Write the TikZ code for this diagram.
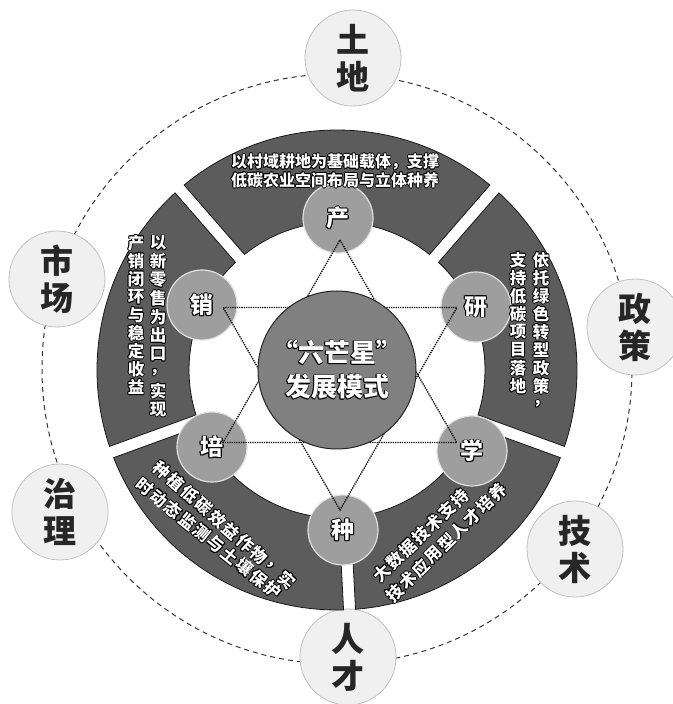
\documentclass[tikz,border=0pt]{standalone}
\usepackage{fontspec}
\setmainfont{Noto Sans CJK SC}
\usetikzlibrary{calc}

\newcommand\olpart[3]{\rlap{\hspace*{#1}\raisebox{#2}{\color{black}#3}}}
\newcommand\ol[1]{\leavevmode\olpart{.8pt}{0pt}{#1}\olpart{-.8pt}{0pt}{#1}\olpart{0pt}{.8pt}{#1}\olpart{0pt}{-.8pt}{#1}\olpart{.6pt}{.6pt}{#1}\olpart{-.6pt}{.6pt}{#1}\olpart{.6pt}{-.6pt}{#1}\olpart{-.6pt}{-.6pt}{#1}#1}

\tikzset{
	orbit/.style={draw=black!80, line width=1pt, dash pattern=on 5pt off 4pt},
	moon/.style={circle, minimum size=96pt, inner sep=0pt, fill=black!6, draw=black!25, line width=.8pt, text=black!85, align=center, font=\bfseries\fontsize{33}{37}\selectfont},
	band/.style={fill=black!64, draw=black!90, line width=.8pt},
	ball/.style={circle, minimum size=70pt, inner sep=0pt, fill=black!38, draw=black!12, line width=1.2pt, text=white, font=\bfseries\fontsize{23}{23}\selectfont},
	hub/.style={circle, minimum size=158pt, inner sep=0pt, fill=black!50, draw=black!85, line width=1pt, text=white, align=center, font=\bfseries\fontsize{26}{34}\selectfont},
	ringtext/.style={inner sep=0pt, text=white, font=\bfseries\fontsize{16.5}{18.5}\selectfont},
	hexa/.style={densely dotted, line width=1.3pt}
}

\begin{document}
\begin{tikzpicture}[x=1pt, y=1pt]
	\useasboundingbox (0,0) rectangle (672,704);
	\coordinate (C) at (337,334);
	\coordinate (S) at (340,329);

	\draw[orbit] (337,335) circle[radius=295];
	\node[moon] (tudi) at (353,646) {土\\地};
	\node[moon] (zhengce) at (635,377) {政\\策};
	\node[moon] (jishu) at (575,155) {技\\术};
	\node[moon] (rencai) at (348,47) {人\\才};
	\node[moon] (zhili) at (60,192) {治\\理};
	\node[moon] (shichang) at (57,425) {市\\场};

	\foreach \p/\q in {49/131,131/200,200/273,273/340,340/409}
		\filldraw[band] ($(C)+({\p+asin(6/148)}:148)$) arc[start angle={\p+asin(6/148)}, end angle={\q-asin(6/148)}, radius=148]
			-- ($(C)+({\q-asin(6/240)}:240)$) arc[start angle={\q-asin(6/240)}, end angle={\p+asin(6/240)}, radius=240] -- cycle;

	\node[ball] (chan) at (338,486) {\ol{产}};
	\node[ball] (yan) at (476,397) {\ol{研}};
	\node[ball] (xue) at (472,253) {\ol{学}};
	\node[ball] (zhong) at (343,174) {\ol{种}};
	\node[ball] (pei) at (212,257) {\ol{培}};
	\node[ball] (xiao) at (202,399) {\ol{销}};

	\foreach \a/\n in {90/p1,30/p2,-30/p3,-90/p4,210/p5,150/p6}
		\coordinate (\n) at ($(S)+(\a:135)$);
	\draw[hexa] (p1) -- (p3) -- (p5) -- cycle;
	\draw[hexa] (p6) -- (p2) -- (p4) -- cycle;

	\node[hub] (core) at (C) {\ol{“六芒星”}\\\ol{发展模式}};

	\node[ringtext, align=center, font=\bfseries\fontsize{16}{18.5}\selectfont] (chantxt) at (335,533)
		{\ol{以村域耕地为基础载体，支撑}\\\ol{低碳农业空间布局与立体种养}};
	\foreach \ch [count=\i] in {依,托,绿,色,转,型,政,策,，}
		\node[ringtext] (yana\i) at (541,{462-18*\i}) {\ol{\ch}};
	\foreach \ch [count=\i] in {支,持,低,碳,项,目,落,地}
		\node[ringtext] (yanb\i) at (518,{462-18*\i}) {\ol{\ch}};
	\foreach \ch [count=\i] in {以,新,零,售,为,出,口,，,实,现}
		\node[ringtext] (xiaoa\i) at (158,{479.5-18.5*\i}) {\ol{\ch}};
	\foreach \ch [count=\i] in {产,销,闭,环,与,稳,定,收,益}
		\node[ringtext] (xiaob\i) at (136,{479-18*\i}) {\ol{\ch}};
	\foreach \ch [count=\i] in {种,植,低,碳,效,益,作,物,，,实}
		\node[ringtext, rotate=-41.3] (peia\i) at ($(162,234)!{(\i-1)/9}!(287,124)$) {\ol{\ch}};
	\foreach \ch [count=\i] in {时,动,态,监,测,与,土,壤,保,护}
		\node[ringtext, rotate=-38.8] (peib\i) at ($(145,217)!{(\i-1)/9}!(273,114)$) {\ol{\ch}};
	\foreach \ch [count=\i] in {大,数,据,技,术,支,持}
		\node[ringtext, rotate=43.9] (xuea\i) at ($(382,131)!{(\i-1)/6}!(460,206)$) {\ol{\ch}};
	\foreach \ch [count=\i] in {技,术,应,用,型,人,才,培,养}
		\node[ringtext, rotate=44.4] (xueb\i) at ($(395,111)!{(\i-1)/8}!(498,212)$) {\ol{\ch}};
\end{tikzpicture}
\end{document}
